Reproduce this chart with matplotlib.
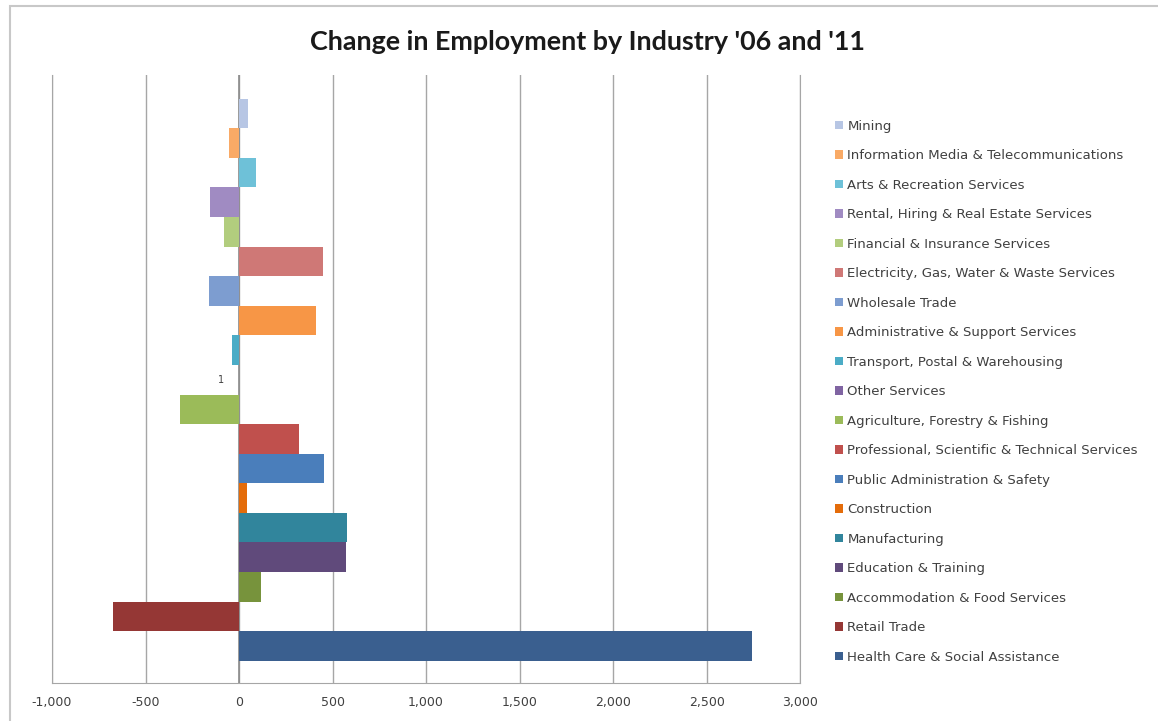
import numpy as np
import matplotlib.pyplot as plt
from matplotlib.patches import Patch, Rectangle
from matplotlib.ticker import FuncFormatter

# industries, top of chart to bottom (same order as the legend)
industrias = ['Mining',
              'Information Media & Telecommunications',
              'Arts & Recreation Services',
              'Rental, Hiring & Real Estate Services',
              'Financial & Insurance Services',
              'Electricity, Gas, Water & Waste Services',
              'Wholesale Trade',
              'Administrative & Support Services',
              'Transport, Postal & Warehousing',
              'Other Services',
              'Agriculture, Forestry & Fishing',
              'Professional, Scientific & Technical Services',
              'Public Administration & Safety',
              'Construction',
              'Manufacturing',
              'Education & Training',
              'Accommodation & Food Services',
              'Retail Trade',
              'Health Care & Social Assistance']

variacao = [48, -52, 90, -155, -80, 448, -160, 410, -37, 1,
            -315, 322, 452, 40, 576, 574, 117, -672, 2740]

cores = ['#B7C6E4', '#F9AA66', '#6EC1D8', '#A08BC2', '#B2CD7E', '#CF7876',
         '#7D9DD0', '#F79646', '#4BACC6', '#8064A2', '#9BBB59', '#C0504D',
         '#4A7EBB', '#E46C0A', '#31859C', '#604A7B', '#77933C', '#953735',
         '#3A5F8F']

ticks_x = [-1000, -500, 0, 500, 1000, 1500, 2000, 2500, 3000]

fig = plt.figure(figsize=(11.58, 7.21), dpi=100)
fig.patches.append(Rectangle((0.009, -0.01), 1.0, 1.002, transform=fig.transFigure,
                             fill=False, edgecolor='#C8C8C8', linewidth=1.5))

ax = fig.add_axes([0.0449, 0.0527, 0.6461, 0.8433])
y = np.arange(len(industrias))
ax.barh(y, variacao, height=1.0, color=cores, zorder=3)

ax.set_xlim(-1000, 3000)
ax.set_ylim(19.25, -1.3)
ax.set_xticks(ticks_x)
ax.xaxis.set_major_formatter(FuncFormatter(lambda v, p: f'{int(v):,}'))
ax.set_yticks([])
ax.tick_params(axis='x', length=0, labelsize=9, labelcolor='#404040', pad=9)
ax.grid(axis='x', color='#A6A6A6', linewidth=1, zorder=0)
ax.axvline(0, color='#8C8C8C', linewidth=1.2, zorder=2)
ax.spines['top'].set_visible(False)
for s in ['left', 'right', 'bottom']:
    ax.spines[s].set_color('#A6A6A6')

# single data label on the near-zero bar
i_outros = industrias.index('Other Services')
ax.annotate(str(variacao[i_outros]), (0, i_outros), xytext=(-11, 0),
            textcoords='offset points', ha='right', va='center',
            fontsize=7, color='#404040')

fig.text(0.507, 0.93, "Change in Employment by Industry '06 and '11",
         ha='center', va='baseline', fontsize=19.4, fontweight='bold',
         family='Lato', color='#1A1A1A')

handles = [Patch(facecolor=c, edgecolor='none') for c in cores]
fig.legend(handles, industrias, loc='upper left', bbox_to_anchor=(0.721, 0.834),
           frameon=False, fontsize=9.5, labelcolor='#404040',
           handlelength=0.6, handleheight=0.6, handletextpad=0.35,
           labelspacing=1.25, borderaxespad=0, borderpad=0)

fig.savefig('out.png', dpi=100)
